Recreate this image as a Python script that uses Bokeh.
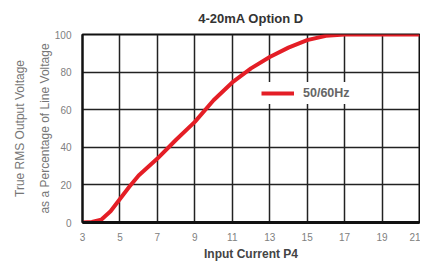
from bokeh.plotting import figure
from bokeh.models import Range1d, FixedTicker, Legend, LegendItem
from bokeh.embed import file_html
from bokeh.resources import INLINE

# Data
current = [3, 3.5, 4, 4.5, 5, 5.5, 6, 7, 8, 9, 10, 11, 12, 13, 14, 15, 16, 17, 18, 19, 20, 21]
voltage_pct = [0, 0.3, 1.5, 6, 12.5, 19, 25, 34, 44, 53.5, 65, 74.5, 82, 88, 93, 97, 99.3, 100, 100, 100, 100, 100]
x_ticks = [3, 5, 7, 9, 11, 13, 15, 17, 19, 21]
y_ticks = [0, 20, 40, 60, 80, 100]
series_name = "50/60Hz"

FONT = "Liberation Sans"

p = figure(width=420, height=263, output_backend="svg", toolbar_location=None,
           x_range=Range1d(3, 21), y_range=Range1d(0, 100),
           min_border_left=82, min_border_right=1, min_border_top=33, min_border_bottom=37,
           title="4-20mA Option D")
p.background_fill_color = "white"
p.border_fill_color = "white"
p.outline_line_color = "#111111"
p.outline_line_width = 2

p.title.align = "center"
p.title.text_font = FONT
p.title.text_font_size = "13px"
p.title.text_font_style = "bold"
p.title.text_color = "#333333"
p.title.offset = 0
p.title.standoff = 17

p.xaxis.ticker = FixedTicker(ticks=x_ticks)
p.yaxis.ticker = FixedTicker(ticks=y_ticks)
for ax in (p.xaxis, p.yaxis):
    ax.major_tick_line_color = None
    ax.minor_tick_line_color = None
    ax.major_label_text_font = FONT
    ax.major_label_text_font_size = "10px"
    ax.major_label_text_color = "#808080"
    ax.axis_label_text_font = FONT
p.yaxis.axis_line_color = "#111111"
p.yaxis.axis_line_width = 2
p.xaxis.axis_line_color = "#111111"
p.xaxis.axis_line_width = 3
p.yaxis.major_label_standoff = 5
p.xaxis.major_label_standoff = 4

p.yaxis.axis_label = "True RMS Output Voltage\nas a Percentage of Line Voltage"
p.yaxis.axis_label_text_font_size = "12px"
p.yaxis.axis_label_text_font_style = "normal"
p.yaxis.axis_label_text_color = "#767676"
p.yaxis.axis_label_text_line_height = 1.8
p.yaxis.axis_label_standoff = 0

p.xaxis.axis_label = "Input Current P4"
p.xaxis.axis_label_text_font_size = "12px"
p.xaxis.axis_label_text_font_style = "bold"
p.xaxis.axis_label_text_color = "#444444"
p.xaxis.axis_label_standoff = 3

for g in (p.xgrid, p.ygrid):
    g.grid_line_color = "#222222"
    g.grid_line_width = 1.5

r = p.line(current, voltage_pct, line_color="#e41e26", line_width=4)

legend = Legend(items=[LegendItem(label=series_name, renderers=[r])],
                location=(179, 118))
legend.background_fill_color = "white"
legend.background_fill_alpha = 1
legend.border_line_color = None
legend.padding = 5
legend.margin = 0
legend.glyph_width = 33
legend.glyph_height = 22
legend.label_standoff = 9
legend.label_text_font = FONT
legend.label_text_font_size = "12.5px"
legend.label_text_font_style = "bold"
legend.label_text_color = "#666666"
p.add_layout(legend, "center")

open("out.html", "w").write(file_html(p, INLINE))
